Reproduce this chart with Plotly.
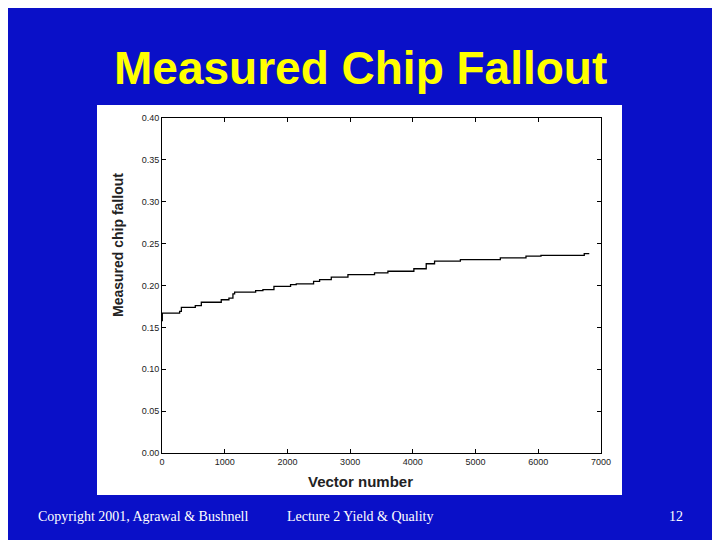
import plotly.graph_objects as go

# step points (vector number, fallout)
vectors = [0, 5, 281, 309, 531, 627, 945, 1067, 1131, 1158, 1493, 1609, 1785, 2050, 2141,
           2417, 2513, 2699, 2965, 3389, 3602, 4016, 4213, 4346, 4758, 5395, 5804, 6043,
           6733, 6813]
fallout = [0.158, 0.167, 0.169, 0.174, 0.176, 0.180, 0.183, 0.185, 0.190, 0.192, 0.194,
           0.195, 0.199, 0.201, 0.202, 0.205, 0.207, 0.210, 0.213, 0.215, 0.217, 0.220,
           0.226, 0.229, 0.231, 0.233, 0.235, 0.236, 0.238, 0.238]

fig = go.Figure(go.Scatter(x=vectors, y=fallout, mode="lines",
                           line=dict(color="black", width=1.3, shape="hv")))

OFF = 8  # page body margin
W, H = 720 - OFF, 540 - OFF
l, r, t, b = 162 - OFF, 119, 118 - OFF, 87
pw, ph = W - l - r, H - t - b

def px2paper(x, y):
    return (x - OFF - l) / pw, 1 - (y - OFF - t) / ph

x0, y0 = px2paper(97, 105)
x1, y1 = px2paper(622, 495)
fig.add_shape(type="rect", xref="paper", yref="paper", x0=x0, y0=y1, x1=x1, y1=y0,
              fillcolor="white", line_width=0, layer="below")

axis = dict(showgrid=False, zeroline=False, showline=True, linecolor="black", linewidth=1,
            mirror="ticks", ticks="inside", ticklen=4, tickcolor="black",
            tickfont=dict(family="Arial", size=9, color="#222"))
fig.update_xaxes(range=[0, 7000], dtick=1000, **axis)
fig.update_yaxes(range=[0, 0.40], dtick=0.05, tickformat=".2f", **axis)

def label(text, x, y, size, color, family="Arial", angle=0):
    px, py = px2paper(x, y)
    fig.add_annotation(text=text, xref="paper", yref="paper", x=px, y=py,
                       xanchor="center", yanchor="middle", textangle=angle,
                       showarrow=False, font=dict(family=family, size=size, color=color))

label("<b>Measured Chip Fallout</b>", 360, 68, 46, "#ffff00")
label("<b>Measured chip fallout</b>", 118, 245, 14, "#222", angle=-90)
label("<b>Vector number</b>", 360, 482, 15, "#222")
serif = "Times New Roman, Liberation Serif"
label("Copyright 2001, Agrawal &amp; Bushnell", 143, 516, 14, "white", serif)
label("Lecture 2 Yield &amp; Quality", 360, 516, 14, "white", serif)
label("12", 676, 516, 14, "white", serif)

fig.update_layout(width=W, height=H, margin=dict(l=l, r=r, t=t, b=b),
                  paper_bgcolor="#0a10c8", plot_bgcolor="white", showlegend=False)
fig.write_html("out.html")
